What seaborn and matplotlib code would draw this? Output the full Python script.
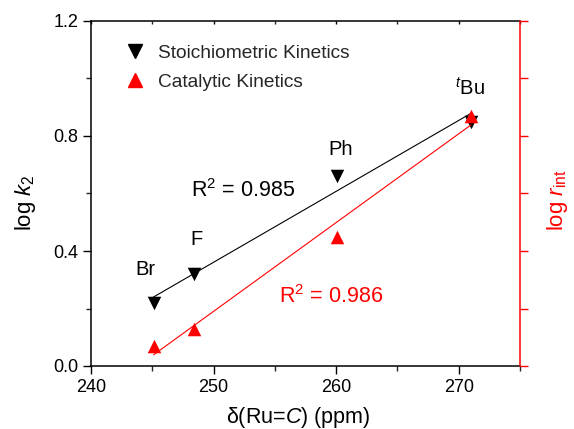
import matplotlib
matplotlib.use("Agg")
import matplotlib.pyplot as plt
from matplotlib.ticker import MultipleLocator
from matplotlib.lines import Line2D
import seaborn as sns
import pandas as pd

# 13C chemical shift of the carbene carbon and the two kinetic measures
shift_ppm = [245.1, 248.4, 260.1, 271.0]
log_k2 = [0.22, 0.32, 0.66, 0.85]
log_rint = [0.07, 0.13, 0.45, 0.87]
substituents = ["Br", "F", "Ph", r"$^{t}$Bu"]
r2_stoich = "0.985"
r2_cat = "0.986"

df = pd.DataFrame({"shift": shift_ppm, "log_k2": log_k2, "log_rint": log_rint,
                   "sub": substituents})

sns.set_theme(style="white")
plt.rcParams["font.family"] = ["Liberation Sans", "DejaVu Sans"]
plt.rcParams["mathtext.fontset"] = "custom"
plt.rcParams["mathtext.rm"] = "Liberation Sans"
plt.rcParams["mathtext.it"] = "Liberation Sans:italic"
plt.rcParams["mathtext.bf"] = "Liberation Sans:bold"

fig = plt.figure(figsize=(5.74, 4.29), dpi=100)
ax = fig.add_axes([91 / 574, 1 - 366 / 429, (520 - 91) / 574, (366 - 21) / 429])
ax2 = ax.twinx()

# stoichiometric kinetics (left axis)
sns.regplot(data=df, x="shift", y="log_k2", ax=ax, scatter=False, ci=None,
            truncate=True, line_kws=dict(color="black", lw=0.8))
sns.scatterplot(data=df, x="shift", y="log_k2", ax=ax, marker="v", s=95,
                color="black", edgecolor="black", linewidth=0, zorder=3)

# catalytic kinetics (right axis)
sns.regplot(data=df, x="shift", y="log_rint", ax=ax2, scatter=False, ci=None,
            truncate=True, line_kws=dict(color="red", lw=0.8))
sns.scatterplot(data=df, x="shift", y="log_rint", ax=ax2, marker="^", s=95,
                color="red", edgecolor="red", linewidth=0, zorder=3)

for a in (ax, ax2):
    a.set_xlim(240, 275)
    a.set_ylim(0, 1.2)
    a.set_xlabel("")
    a.set_ylabel("")

ax.xaxis.set_major_locator(MultipleLocator(10))
ax.xaxis.set_minor_locator(MultipleLocator(5))
ax.yaxis.set_major_locator(MultipleLocator(0.4))
ax.yaxis.set_minor_locator(MultipleLocator(0.2))
ax.set_yticklabels([f"{v:.1f}" for v in ax.get_yticks()])
ax.tick_params(axis="both", which="major", direction="out", length=6, width=1,
               labelsize=13, colors="black", pad=3,
               bottom=True, left=True, top=True, right=False)
ax.tick_params(axis="both", which="minor", direction="out", length=3.5, width=1,
               bottom=True, left=True, top=True, right=False)
# short inward ticks on the top spine
for t in ax.xaxis.get_major_ticks() + ax.xaxis.get_minor_ticks():
    t.tick2line.set_marker(3)
    t.tick2line.set_markersize(2.5)

ax2.yaxis.set_major_locator(MultipleLocator(0.2))
ax2.tick_params(axis="y", which="major", direction="out", length=6, width=1,
                colors="red", labelright=False, right=True)
ax2.tick_params(axis="x", bottom=False, top=False)

for s in ("left", "bottom", "top"):
    ax.spines[s].set_color("black")
    ax.spines[s].set_linewidth(1.1)
for s in ("left", "bottom", "top"):
    ax2.spines[s].set_visible(False)
ax2.spines["right"].set_color("red")
ax2.spines["right"].set_linewidth(1.1)
ax.spines["right"].set_visible(False)

# substituent labels above the points
offsets = [(-6, 23.6), (1.5, 24.5), (2.6, 19.6), (-0.7, 24.2)]
for xv, yv, lab, (dx, dy) in zip(shift_ppm, log_k2, substituents, offsets):
    ax.annotate(lab, (xv, yv), xytext=(dx, dy), textcoords="offset points",
                ha="center", va="center", fontsize=14.5, color="black")

ax.text(252.4, 0.609, rf"R$^2$ = {r2_stoich}", fontsize=15.5, color="black",
        ha="center", va="center")
ax.text(259.6, 0.24, rf"R$^2$ = {r2_cat}", fontsize=15.5, color="red",
        ha="center", va="center")

# axis titles
fig.text(26 / 574, 1 - 203 / 429, r"log $\mathit{k}_2$", rotation=90,
         fontsize=16, ha="center", va="center", color="black")
fig.text(557.5 / 574, 1 - 200 / 429, r"log $\mathit{r}_{\rm int}$", rotation=90,
         fontsize=16, ha="center", va="center", color="red")
fig.text(298 / 574, 1 - 423 / 429, r"δ(Ru=$\mathit{C}$) (ppm)",
         fontsize=15.5, ha="center", va="baseline", color="black")

handles = [Line2D([], [], ls="none", marker="v", color="black", markersize=9.5),
           Line2D([], [], ls="none", marker="^", color="red", markersize=9.5)]
ax.legend(handles, ["Stoichiometric Kinetics", "Catalytic Kinetics"],
          loc="upper left", bbox_to_anchor=(0.062, 0.955), frameon=False,
          fontsize=13.8, handletextpad=0.72, labelspacing=0.62,
          handlelength=1.0, borderaxespad=0)

fig.savefig("out.png", dpi=100, facecolor="white")
